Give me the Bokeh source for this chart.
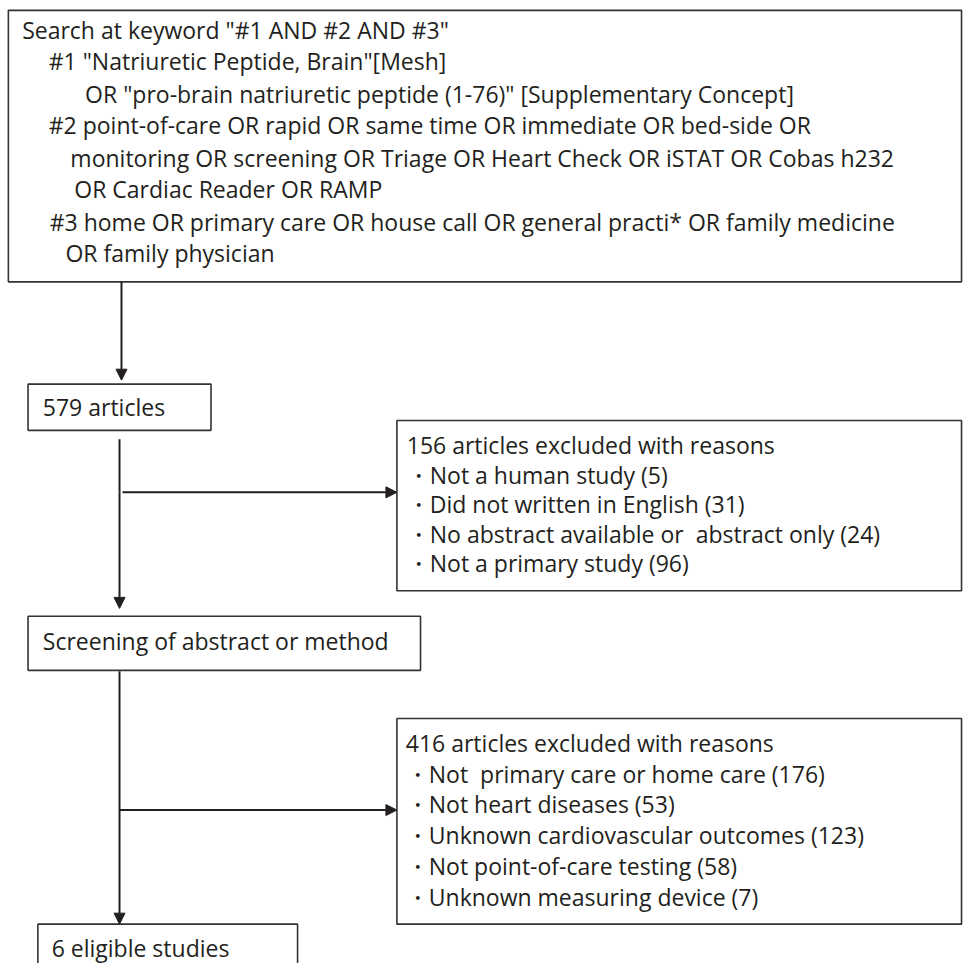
from bokeh.plotting import figure
from bokeh.models import Range1d, ColumnDataSource, Arrow, NormalHead
from bokeh.core.properties import value
from bokeh.embed import file_html
from bokeh.resources import INLINE

# ---------------- data ----------------
search_lines = [
    'Search at keyword "#1 AND #2 AND #3"',
    '#1 "Natriuretic Peptide, Brain"[Mesh]',
    'OR "pro-brain natriuretic peptide (1-76)" [Supplementary Concept]',
    '#2 point-of-care OR rapid OR same time OR immediate OR bed-side OR',
    'monitoring OR screening OR Triage OR Heart Check OR iSTAT OR Cobas h232',
    'OR Cardiac Reader OR RAMP',
    '#3 home OR primary care OR house call OR general practi* OR family medicine',
    'OR family physician',
]
n_found = 579
screen_label = "Screening of abstract or method"
excl1_total = 156
excl1_reasons = ["Not a human study", "Did not written in English",
                 "No abstract available or  abstract only", "Not a primary study"]
excl1_counts = [5, 31, 24, 96]
excl2_total = 416
excl2_reasons = ["Not  primary care or home care", "Not heart diseases",
                 "Unknown cardiovascular outcomes", "Not point-of-care testing",
                 "Unknown measuring device"]
excl2_counts = [176, 53, 123, 58, 7]
n_eligible = 6

# ---------------- layout (reference pixel coordinates) ----------------
FONT = "Open Sans"
FS = "23px"
INK = "#231f20"
search_x = [22, 49, 86, 49, 71, 75, 50, 66]
search_y = [30, 62, 95, 127, 160, 192, 225, 257]

p = figure(width=963, height=963, output_backend="svg", toolbar_location=None,
           x_range=Range1d(0, 979), y_range=Range1d(979, 0), min_border=0)
p.axis.visible = False
p.grid.visible = False
p.outline_line_color = None
p.background_fill_color = "white"

# boxes: left, right, top, bottom
boxes = dict(
    left=[8, 28, 403, 28, 403, 38],
    right=[977, 214, 977, 427, 977, 302],
    top=[10, 390, 427, 626, 730, 939],
    bottom=[286, 437, 600, 681, 939, 995],
)
p.quad(left="left", right="right", top="top", bottom="bottom",
       source=ColumnDataSource(boxes), fill_color="white",
       line_color="#333333", line_width=1.6)

# plain connector lines
p.segment(x0=[121, 121], y0=[446, 682], x1=[121, 121], y1=[500, 823],
          line_color=INK, line_width=2)

def arrow(x0, y0, x1, y1):
    p.add_layout(Arrow(end=NormalHead(size=11, fill_color=INK, line_color=INK),
                       x_start=x0, y_start=y0, x_end=x1, y_end=y1,
                       line_color=INK, line_width=2))

arrow(123, 286, 123, 386)
arrow(121, 500, 121, 618)
arrow(124, 500, 403, 500)
arrow(121, 823, 121, 939)
arrow(121, 823, 403, 823)

def keep_spaces(s):
    return s.replace("  ", " \u00a0")

def texts(xs, ys, ts):
    p.text(x=xs, y=ys, text=[keep_spaces(t) for t in ts], text_font=value(FONT),
           text_font_size=FS, text_color=INK, text_baseline="middle",
           text_align="left")

texts(search_x, search_y, search_lines)
texts([43], [413], [f"{n_found} articles"])
texts([43], [651], [screen_label])
texts([52], [963], [f"{n_eligible} eligible studies"])

ex1 = [f"{excl1_total} articles excluded with reasons"] + \
      [f"・{r} ({c})" for r, c in zip(excl1_reasons, excl1_counts)]
texts([413] * len(ex1), [452, 482, 512, 542, 572], ex1)

ex2 = [f"{excl2_total} articles excluded with reasons"] + \
      [f"・{r} ({c})" for r, c in zip(excl2_reasons, excl2_counts)]
texts([412] * len(ex2), [755, 786, 817, 848, 880, 911], ex2)

open("out.html", "w").write(file_html(p, INLINE))
